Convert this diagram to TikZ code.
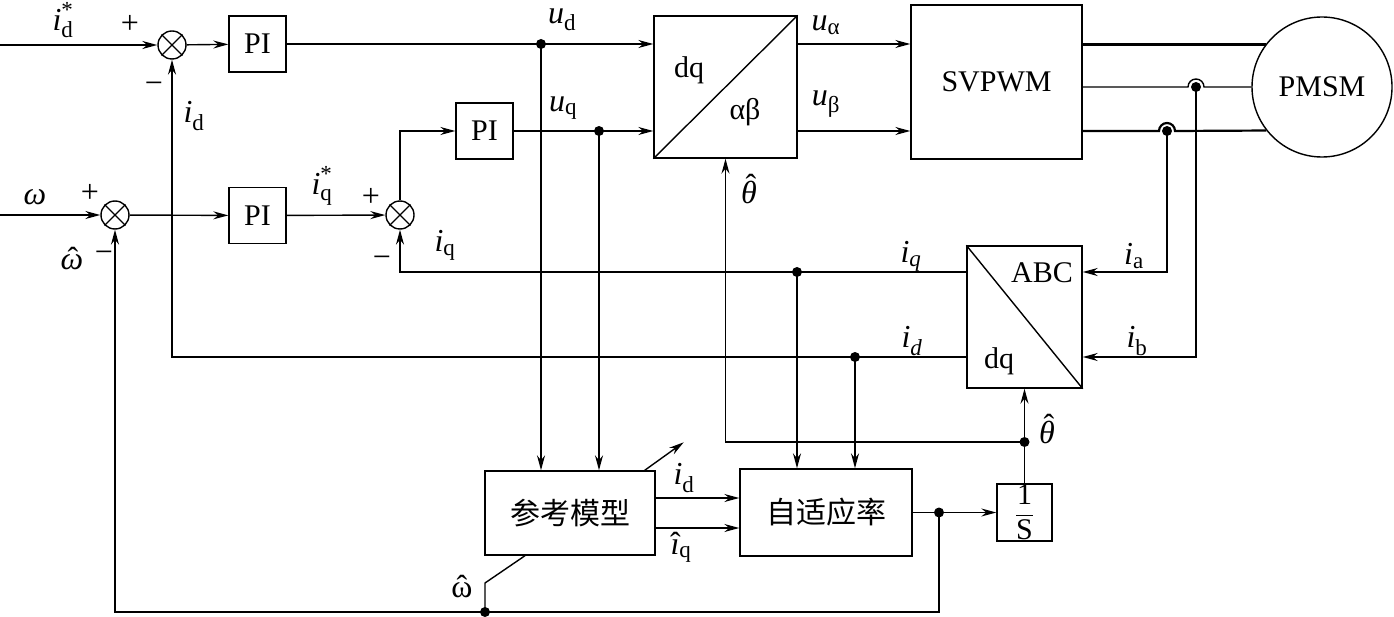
\documentclass[tikz,border=0pt]{standalone}
\usepackage{amsmath}
\usepackage{fontspec}
\setmainfont{Liberation Serif}
\newfontfamily\cjk{Noto Sans CJK SC}
\usetikzlibrary{arrows.meta}
\newcommand\Lf{\fontsize{32}{36}\selectfont}
\newcommand\Sf{\fontsize{23}{26}\selectfont}
\newcommand\lbs[2]{$\mbox{\Lf\itshape #1}_{\mbox{\Sf #2}}$}
\newcommand\lbss[3]{$\mbox{\Lf\itshape #1}_{\mbox{\Sf #2}}^{\mbox{\Sf #3}}$}
% hat over a glyph: #1 = horizontal kern, #2 = raise, #3 = glyph
\newcommand\hatg[3]{{\ooalign{#3\cr\hidewidth\kern#1\raisebox{#2}{\upshape ˆ}\hidewidth\cr}}}
\begin{document}
\begin{tikzpicture}[x=1pt,y=-1pt,
  line width=1.4pt,
  blk/.style={draw, line width=1.4pt, inner sep=0pt, font=\fontsize{30}{34}\selectfont},
  sumc/.style={draw, circle, minimum size=28pt, inner sep=0pt, line width=1.4pt},
  arr/.style={-{Stealth[length=15pt,width=8pt,inset=5pt]}},
  lab/.style={inner sep=0pt, font=\Lf},
  sgn/.style={inner sep=0pt, font=\fontsize{32}{34}\selectfont},
  txt/.style={inner sep=0pt, font=\fontsize{30}{34}\selectfont},
  jdot/.style={circle, fill, inner sep=0pt, minimum size=10pt},
]
\fill[white] (0,0) rectangle (1394,617);
\useasboundingbox (0,0) rectangle (1394,617);

% blocks
\node[sumc] (s1) at (172,45) {};
\node[sumc] (s2) at (115,215) {};
\node[sumc] (s3) at (400,215) {};
\foreach \s in {s1,s2,s3}{\draw (\s.45) -- (\s.225) (\s.135) -- (\s.315);}
\node[blk, minimum width=57pt, minimum height=56pt] (pi1) at (257.5,44) {PI};
\node[blk, minimum width=57pt, minimum height=56pt] (pi2) at (257.5,215.5) {PI};
\node[blk, minimum width=57pt, minimum height=56pt] (pi3) at (484.5,131) {PI};
\node[blk, minimum width=143pt, minimum height=142pt] (park) at (725.5,87) {};
\draw (park.south west) -- (park.north east);
\node[txt] (tdq) at (689,70) {dq};
\node[txt] (tab) at (745,112) {αβ};
\node[blk, minimum width=171pt, minimum height=154pt] (svp) at (996.5,82) {SVPWM};
\node[draw, circle, minimum size=140pt, inner sep=0pt, line width=1.4pt, font=\fontsize{30}{34}\selectfont] (pmsm) at (1322,87) {PMSM};
\node[blk, minimum width=115pt, minimum height=142pt] (clk) at (1024.5,317) {};
\draw (clk.north west) -- (clk.south east);
\node[txt] (tabc) at (1042,273) {ABC};
\node[txt] (tdq2) at (999,361) {dq};
\node[blk, minimum width=170pt, minimum height=84pt, font=\cjk\fontsize{30}{34}\selectfont] (ref) at (570,513) {参考模型};
\node[blk, minimum width=172pt, minimum height=87pt, font=\cjk\fontsize{30}{34}\selectfont] (ada) at (826,512.5) {自适应率};
\node[blk, minimum width=55pt, minimum height=57pt, font=\fontsize{30}{34}\selectfont] (integ) at (1024.5,512.5) {$\genfrac{}{}{1.2pt}{0}{\mbox{1}}{\mbox{S}}$};

% helper coordinates
\coordinate (in1) at (0,45);
\coordinate (in2) at (0,215);
\coordinate (rq) at (0,272);
\coordinate (rd) at (0,357);
\coordinate (rt) at (0,442);
\coordinate (rid) at (0,498);
\coordinate (riq) at (0,528);
\coordinate (rb) at (0,612);
\coordinate (ha) at (1167,131);
\coordinate (hb) at (1196,87);
\coordinate (dud) at (541,44);
\coordinate (duq) at (599,131);
\coordinate (dq1) at (797,272);
\coordinate (dd1) at (855,357);
\coordinate (dw) at (939,512.5);
\coordinate (dw2) at (485,612);

% forward paths
\draw[arr, line width=2pt] (in1) -- (s1.west);
\draw[arr] (s1) -- (pi1);
\draw[arr] (pi1.east) -- (pi1.east -| park.west);
\draw[arr] (in2) -- (s2.west);
\draw[arr] (s2) -- (pi2);
\draw[arr] (pi2) -- (s3);
\draw[arr] (s3.north) |- (pi3.west);
\draw[arr] (pi3.east) -- (pi3.east -| park.west);
\draw[arr] (park.east |- pi1.east) -- (svp.west |- pi1.east);
\draw[arr] (park.east |- pi3.east) -- (svp.west |- pi3.east);

% three phases
\draw[line width=2.2pt] (svp.east |- pmsm.143.13) -- (pmsm.143.13);
\draw (svp.east |- hb) -- ([xshift=-8pt]hb) arc[start angle=180,end angle=0,radius=8pt] -- (pmsm.west);
\draw[line width=2.2pt] (svp.east |- ha) -- ([xshift=-8pt]ha) arc[start angle=180,end angle=0,radius=8pt] -- (pmsm.218.94);
\node[jdot] at (ha) {};
\node[jdot] at (hb) {};

% current feedback
\draw[arr] (ha) |- (clk.east |- rq);
\draw[arr] (hb) |- (clk.east |- rd);
\draw[arr] (clk.west |- rq) -| (s3.south);
\draw[arr] (clk.west |- rd) -| (s1.south);

% branches to observer
\node[jdot] at (dud) {};
\node[jdot] at (duq) {};
\node[jdot] at (dq1) {};
\node[jdot] at (dd1) {};
\draw[arr] (dud) -- (dud |- ref.north);
\draw[arr] (duq) -- (duq |- ref.north);
\draw[arr] (dq1) -- (dq1 |- ada.north);
\draw[arr] (dd1) -- (dd1 |- ada.north);

\draw[arr] (ref.east |- rid) -- (ada.west |- rid);
\draw[arr] (ref.east |- riq) -- (ada.west |- riq);
\draw[arr] (ada.east) -- (integ.west);
\node[jdot] at (dw) {};
\draw[arr] (dw) |- (s2.south |- rb) -- (s2.south);
\node[jdot] at (dw2) {};
\draw (dw2) -- ++(0,-29) -- ([xshift=-45pt]ref.south);
\draw[arr] ([xshift=-11pt]ref.north east) -- ++(39,-28);

% angle
\draw[arr] (integ.north) -- (clk.south);
\coordinate (dth) at (integ.north |- rt);
\node[jdot] at (dth) {};
\draw[arr] (dth) -| (park.south);

% labels
\node[lab] at (63,20) {\lbss{i}{d}{*}};
\node[sgn] at (130,24) {+};
\node[sgn] at (154,88) {−};
\node[lab] at (194,116) {\lbs{i}{d}};
\node[lab] at (35,197) {\textit{ω}};
\node[sgn] at (90,193) {+};
\node[lab] at (72,262) {\hatg{2pt}{0pt}{\itshape ω}};
\node[sgn] at (104,257) {−};
\node[lab] at (322,186) {\lbss{i}{q}{*}};
\node[sgn] at (371,197) {+};
\node[sgn] at (382,262) {−};
\node[lab] at (445,245) {\lbs{i}{q}};
\node[lab] at (562,20) {\lbs{u}{d}};
\node[lab] at (563,108) {\lbs{u}{q}};
\node[lab] at (826,25) {\lbs{u}{α}};
\node[lab] at (826,104) {\lbs{u}{β}};
\node[lab] at (749,192) {\hatg{4pt}{7pt}{\itshape θ}};
\node[lab] at (1047,432) {\hatg{4pt}{7pt}{\itshape θ}};
\node[lab] at (911,256) {\lbs{i}{\itshape q}};
\node[lab] at (912,341) {\lbs{i}{\itshape d}};
\node[lab] at (1134,256) {\lbs{i}{a}};
\node[lab] at (1137,341) {\lbs{i}{b}};
\node[lab] at (684,478) {\lbs{i}{d}};
\node[lab] at (681,551) {$\mbox{\Lf\hatg{1pt}{0pt}{\itshape ı}}_{\mbox{\Sf q}}$};
\node[lab] at (462,590) {\hatg{0pt}{0pt}{ω}};
\end{tikzpicture}
\end{document}
